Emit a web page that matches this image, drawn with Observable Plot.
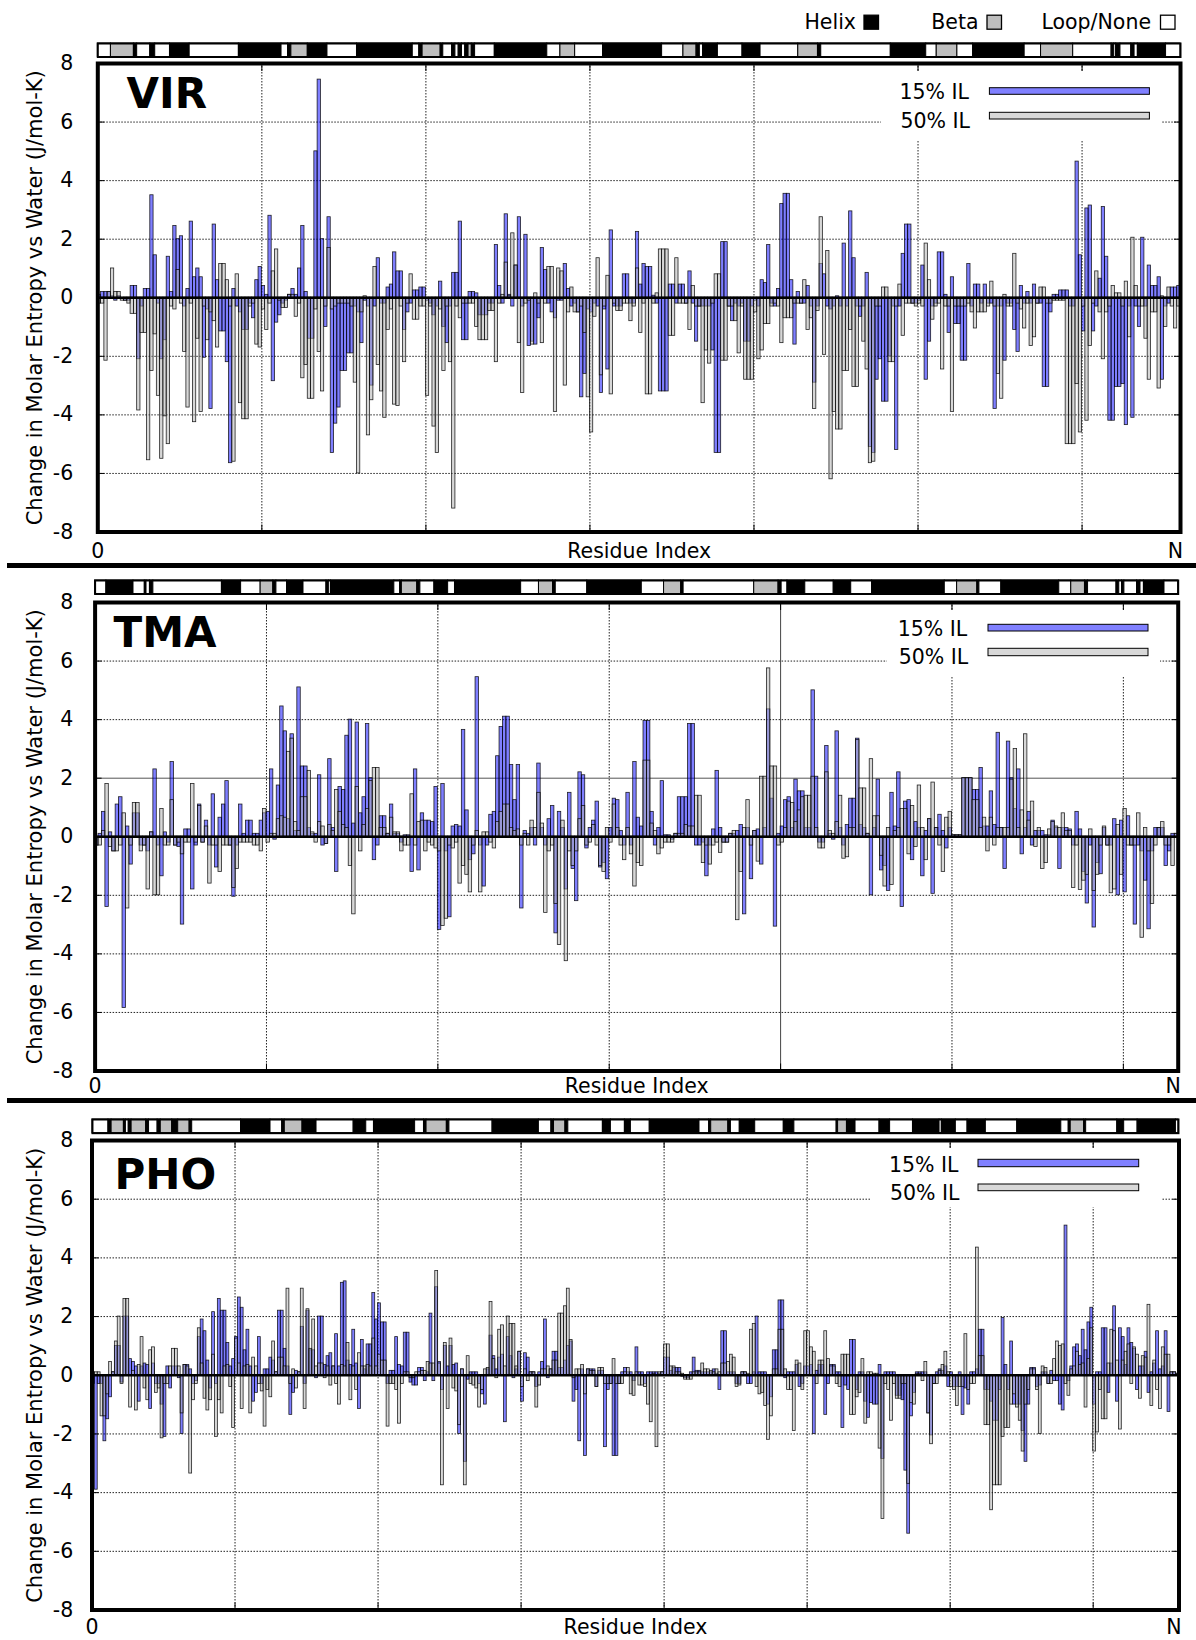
<!DOCTYPE html>
<html><head><meta charset="utf-8">
<script src="https://cdn.jsdelivr.net/npm/d3@7"></script>
<script src="https://cdn.jsdelivr.net/npm/@observablehq/plot@0.6"></script>
<style>
html,body{margin:0;padding:0;background:#fff}
body{width:1196px;height:1640px;position:relative;overflow:hidden;font-family:"DejaVu Sans",sans-serif}
.abs{position:absolute;left:0}
.sep{position:absolute;left:7px;width:1189px;height:4.5px;background:#000}
</style></head><body>
<script>
// ---------------- DATA ----------------
const virBlue = [0.1,0.2,0.2,0.2,0.05,-0.1,0.05,0,-0.1,-0.1,
0.4,0.4,-2.1,-0.3,0.3,0.3,3.5,1.45,-0.2,-2.1,
-1.45,1.4,0.2,2.45,2.0,2.1,-0.3,0.3,2.6,0.7,
1.0,0.7,-2.05,-0.4,-3.8,2.5,0.6,-1.15,-1.15,-2.2,
-5.65,0.3,-0.3,-0.5,-1.1,-1.1,-0.2,-0.7,0.6,1.05,
0.4,0.1,2.8,-2.85,-0.85,-0.6,-0.2,-0.1,0.1,0.3,
0.1,1.0,2.45,0.2,-1.4,-1.4,5.0,7.45,2.0,-1.0,
2.75,-5.3,-4.3,-3.75,-2.5,-2.5,-1.9,-1.9,-0.3,-0.5,
-1.55,-0.1,-0.3,-3.0,-0.3,1.35,-0.2,-0.2,0.35,0.45,
1.55,0.9,0.9,-1.1,-0.5,-0.2,0.25,0.25,0.35,0.35,
-0.1,-0.2,-0.6,-0.3,0.55,-1.0,-1.55,-0.3,0.85,0.85,
2.6,-1.45,-1.45,0.2,0.2,0.15,-0.6,-0.6,-0.6,-0.2,
-0.2,1.8,0.4,-0.2,2.85,0.1,-0.3,1.1,2.75,-0.3,
2.15,-1.65,-1.5,-1.6,-0.7,1.7,0.95,-0.2,-0.5,-0.7,
-0.1,-0.1,1.15,0.3,-0.3,-0.2,-0.5,-3.4,-2.6,-0.4,
-0.5,-0.2,-0.3,-3.25,-0.4,-2.45,2.3,-0.3,-0.3,-0.3,
0.8,0.8,-0.2,-0.2,2.25,0.45,1.15,1.05,1.05,0.07,
-0.2,-3.2,-3.2,-3.2,0.45,0.45,-0.2,0.45,0.45,-0.2,
0.9,-0.2,-1.5,-0.3,-0.3,-0.3,-0.3,-1.8,-5.3,-5.3,
1.9,1.9,-0.3,-0.8,-0.2,-0.3,-0.2,-1.5,-1.5,-0.3,
-0.1,-0.3,0.6,0.5,1.8,-0.2,-0.3,0.3,3.2,3.55,
3.55,0.6,-1.6,0.2,-0.2,-0.2,0.4,-0.3,-2.9,-0.3,
1.15,0.8,-0.3,-0.4,-0.3,0.05,-0.3,1.85,-0.3,2.95,
1.35,-0.3,-0.65,-0.3,0.85,-5.1,-5.3,-2.8,-2.1,-3.55,
-3.55,-2.0,-0.3,-5.2,-0.3,1.5,2.5,2.5,-0.2,-0.2,
-0.1,1.1,-2.8,-1.5,-0.3,-0.2,1.55,1.55,0.1,-1.2,
0.7,-0.9,-0.9,-2.15,-2.15,1.15,-0.3,0.45,0.45,-0.2,
0.45,-0.2,-0.2,-3.8,-0.3,-0.3,-2.15,-0.2,-0.2,-1.1,
-1.85,0.4,-0.2,0.2,-0.2,0.45,-0.2,-0.2,-3.05,-3.05,
-0.5,0.1,0.1,0.25,0.25,0.25,-0.3,-0.3,4.65,1.45,
-1.15,3.05,3.15,-1.15,-0.3,0.65,3.1,1.4,-4.2,-4.2,
-3.05,-3.05,-2.95,-4.35,-0.3,-4.1,-0.3,-1.0,2.05,-0.3,
1.1,0.4,0.4,0.7,-2.8,-0.3,-0.2,0.35,0.35,0.4];

const virGray = [-0.2,-0.2,-2.15,0.2,1.0,0.2,0.2,-0.1,-0.1,-0.2,
-0.55,-0.55,-3.85,-1.2,-1.2,-5.55,-2.5,-1.25,-3.35,-5.5,
-4.05,-5.0,-0.3,-0.4,0.95,-0.2,-1.85,-3.75,-0.2,-4.25,
-1.4,-3.9,-0.3,-1.45,-0.5,-0.8,-1.7,1.15,1.15,0.6,
-0.3,-5.6,0.8,-3.6,-4.15,-4.15,-0.3,-0.2,-1.6,-1.7,
-0.4,-1.1,-0.2,0.9,1.65,-0.1,-0.35,-0.35,0.1,0.1,
-0.65,-0.2,-2.75,-2.3,-3.45,-3.45,-0.4,-1.85,-3.2,-0.3,
1.7,-0.4,-0.3,-0.2,-0.2,-0.2,-0.2,-0.3,-2.9,-6.0,
-0.5,0.05,-4.7,-3.5,1.05,-2.3,-3.2,-4.1,-1.1,-0.4,
-3.65,-3.7,-0.3,-2.2,-0.2,0.8,-0.75,-0.75,-0.3,-0.3,
-3.35,-0.3,-4.4,-5.3,-0.4,-2.5,-0.3,-2.2,-7.2,-0.3,
-0.7,-0.2,-0.2,-0.2,-0.2,-1.0,-1.45,-1.45,-1.45,-0.45,
-0.45,-2.2,-0.2,0.1,1.2,0.05,2.2,1.1,-1.55,-3.25,
-0.2,-0.1,-1.6,0.15,-0.2,-1.55,-0.2,1.05,1.05,-3.9,
1.0,0.9,-3.0,-0.5,0.35,-0.5,-0.5,-0.3,-1.2,-3.4,
-4.6,-0.65,1.35,-2.65,-0.3,0.75,-3.3,-0.2,-0.45,-0.45,
-0.2,-0.2,-0.8,-0.3,1.0,-1.2,-0.2,-3.3,-3.3,-0.2,
0.15,1.65,1.65,1.65,-1.3,-1.3,1.35,-0.2,-0.2,-0.2,
-1.1,0.4,-0.3,-0.3,-3.6,-1.8,-2.25,-0.2,0.8,0.8,
-2.15,-2.15,-0.3,-0.3,-0.8,-1.9,-0.3,-2.8,-2.8,-2.8,
-0.5,-2.1,-1.8,-0.9,-0.9,-0.3,-0.2,-0.3,-1.55,-0.7,
-0.7,-0.7,-0.2,-0.2,-0.2,0.6,-1.1,-0.7,-3.8,-0.45,
2.75,-1.95,1.6,-6.2,-3.9,-4.5,-4.5,-2.5,-2.5,-1.1,
-3.05,-3.05,-0.3,-1.5,-2.45,-5.65,-5.6,-0.3,-0.3,0.35,
0.35,-2.2,-2.2,-0.3,0.45,-1.3,-0.2,-0.2,-0.2,-0.3,
-0.2,-0.3,1.85,0.6,-0.75,-0.3,-0.2,-2.45,-0.3,-0.3,
-3.9,-0.3,-0.3,-0.3,-0.3,-0.2,-0.5,-1.05,-0.5,-0.5,
-0.5,-0.3,0.55,-0.3,-2.6,-3.45,0.1,-0.3,-0.3,1.5,
-0.2,-0.4,-1.05,-0.2,-1.65,-1.35,-0.2,0.35,0.35,-0.2,
-0.2,-0.1,-0.1,-0.1,-0.1,-5.0,-5.0,-5.0,-2.95,-4.6,
-0.3,-4.2,-1.65,-0.2,0.9,-0.5,-2.1,-0.5,-0.3,0.4,
0.15,0.15,-0.3,0.55,-1.35,2.05,0.4,-0.3,-0.3,-1.4,
-2.8,-0.5,-0.5,-3.1,0.05,-1.0,0.35,-0.3,-1.05,-0.3];

const tmaBlue = [-0.3,0.1,0.85,-2.4,0.15,-0.5,1.1,1.35,-5.85,0.35,
-0.95,0.8,0.8,-0.3,-0.3,-0.5,0.15,2.3,-0.3,-1.35,
0.15,-0.2,2.55,-0.3,-0.35,-3.0,0.25,0.25,-1.8,-0.3,
1.1,-0.2,0.55,-0.3,1.45,-1.05,0.65,1.1,1.9,-0.3,
-2.05,-0.3,1.1,0.1,0.55,0.55,0.1,0.1,0.55,0.8,
0.85,2.3,-0.1,1.75,4.45,3.6,0.6,3.5,0.2,5.1,
2.4,2.4,0.3,0.1,0.1,2.1,-0.3,-0.25,2.65,0.3,
-1.2,1.7,1.6,3.45,4.0,0.45,3.9,0.8,1.35,3.85,
2.0,-0.8,-0.3,0.7,0.7,0.1,1.1,0.1,0.1,-0.2,
0.05,0.05,-1.2,2.3,-1.15,0.8,0.55,0.55,0.5,1.7,
-3.18,1.8,-0.5,-2.75,0.35,0.4,0.35,3.65,0.9,-0.8,
-0.6,5.45,-0.3,-1.7,-0.3,0.75,0.85,2.75,3.75,4.1,
4.1,2.45,1.25,2.45,-2.45,0.2,0.1,0.3,-0.3,2.5,
0.3,-0.3,0.6,1.05,-3.3,0.85,0.3,-1.8,1.5,-1.1,
-2.2,2.2,2.1,-0.4,0.3,0.55,1.2,-1.05,-0.9,-1.45,
0.3,1.3,1.25,0.2,-0.3,1.5,-0.3,2.55,0.65,0.35,
3.95,3.95,0.85,-0.3,0.3,1.9,0.05,0.05,-0.1,0.1,
1.35,1.35,1.35,3.85,3.85,-0.3,-0.3,-0.2,-1.35,-0.3,
0.25,2.25,0.3,-0.2,-0.2,0.1,0.1,0.2,0.4,-2.65,
0.3,-1.45,0.2,0.25,-0.95,0.3,4.35,1.3,-3.07,0.1,
0.35,1.25,1.35,0.3,1.95,1.55,1.55,0.3,0.3,5.0,
2.05,-0.2,-0.2,3.1,0.1,-0.1,3.6,0.3,-0.3,0.4,
1.3,1.3,3.35,0.4,0.3,0.1,-2.0,0.3,1.95,-1.15,
-1.0,-1.85,1.5,0.35,2.2,-2.4,1.2,1.25,-0.8,0.5,
0.3,-1.35,0.2,0.6,-1.95,0.3,0.75,0.2,-0.4,0.3,
0.05,0.05,0.05,2.0,2.0,2.0,1.6,1.6,2.35,0.35,
0.35,1.55,0.4,3.55,0.3,-1.1,3.25,2.0,0.95,2.3,
-0.6,0.3,0.85,-0.3,0.2,0.2,0.2,0.05,0.05,0.55,
0.3,-1.1,0.3,0.3,0.25,-0.3,0.85,0.25,-1.2,-2.28,
-0.3,-3.1,-0.9,-1.28,0.3,-0.3,-0.3,0.6,-2.0,0.55,
-1.9,0.7,-0.3,-3.0,-0.3,-0.5,-1.5,-3.16,-0.5,0.3,
0.3,0.3,-1.0,-0.5,0.1,0.1];

const tmaGray = [-0.3,-0.3,0.2,1.8,-0.35,-0.5,-0.5,-0.3,0.8,-2.45,
-0.3,1.15,1.15,-0.5,-0.3,-1.8,0.15,-2.0,-2.0,0.95,
-0.3,-0.3,1.25,-0.3,-0.2,-0.6,-0.2,-0.2,1.8,-0.2,
1.05,-0.2,0.35,-1.6,-0.3,-0.3,-1.2,-0.3,-0.3,-0.3,
-1.75,-1.1,-0.2,-0.2,-0.2,-0.2,-0.3,-0.3,-0.5,0.95,
-0.2,0.1,0.1,0.6,0.7,0.65,2.9,3.35,0.5,0.2,
1.35,1.35,2.25,0.15,-0.2,0.5,0.35,-0.25,0.4,0.2,
1.6,0.85,0.4,0.3,-1.0,-2.65,1.7,-0.5,0.4,0.95,
1.9,2.35,2.35,0.3,0.3,0.1,0.65,0.15,0.15,-0.5,
-0.3,-0.3,1.45,-0.3,0.5,0.55,-0.5,-0.2,-0.3,-0.4,
-0.5,-3.05,-2.8,-0.3,-0.4,-0.2,-1.6,-1.0,-1.3,-1.9,
-0.3,0.2,-1.9,0.15,0.15,-0.2,-0.4,0.5,0.85,1.1,
1.1,0.3,0.2,0.25,-0.3,0.1,-0.3,0.55,0.3,1.5,
0.45,-2.6,-0.5,-0.3,-2.3,-3.7,0.55,-4.25,-0.5,-1.0,
-0.5,0.6,1.05,-0.3,-0.2,0.4,-0.3,-1.0,-1.2,0.3,
-0.2,1.1,0.3,-0.3,-0.8,0.3,-0.6,-1.7,-0.9,-1.0,
2.6,2.6,0.45,0.2,-0.6,-0.4,-0.2,-0.2,-0.2,0.1,
0.1,0.1,0.4,0.35,0.35,1.4,1.4,-0.9,-0.3,-0.95,
-0.3,-0.2,-0.55,-0.2,-0.2,0.1,0.2,-2.85,-1.2,0.3,
1.25,-0.3,0.2,-0.85,2.05,2.05,5.75,2.4,2.4,-0.3,
-0.2,0.3,1.2,1.15,0.5,0.9,1.35,1.4,1.4,2.05,
0.3,-0.4,-0.4,2.2,0.2,0.1,0.5,1.4,-0.75,-0.7,
0.3,0.3,3.3,1.65,1.65,0.1,2.65,0.7,0.7,-0.65,
-1.7,0.3,-1.65,0.2,0.3,0.95,0.95,-0.6,1.05,-0.35,
1.75,0.3,-0.8,0.6,1.85,0.3,-0.3,-1.2,0.65,0.85,
0.05,0.05,0.05,2.0,2.0,2.0,1.25,1.25,0.3,0.65,
-0.5,0.65,-0.3,0.3,0.3,0.3,0.3,1.95,3.0,0.3,
0.9,3.5,0.55,1.2,-0.35,0.3,-1.1,-0.9,0.25,0.5,
0.35,0.3,0.8,0.2,0.2,-1.75,-0.3,-1.82,-1.5,-1.3,
0.25,-1.85,-1.3,-0.3,0.35,-0.3,-1.93,-1.8,0.4,-1.3,
0.95,-0.3,-0.3,-0.3,0.8,-3.45,0.3,-0.5,-2.3,-0.3,
0.3,0.5,-0.3,-0.3,-1.0,0.1];

const phoBlue = [-0.3,-3.9,-0.3,-0.3,-2.25,-1.5,-0.75,0.1,1.0,1.0,
-0.25,2.0,2.0,0.55,0.45,0.3,-0.9,0.3,0.4,0.35,
-1.15,0.4,-0.3,-0.3,-1.0,-2.1,0.3,-0.45,0.3,0.3,
-0.1,-2.0,0.35,0.35,0.2,-0.3,-0.2,1.3,1.9,1.5,
0.5,-0.45,2.15,-0.3,2.6,2.2,2.2,1.1,0.3,0.55,
1.3,2.65,2.3,0.85,1.55,0.3,-0.9,-0.6,1.3,-0.3,
0.2,0.2,0.6,0.5,0.1,2.2,2.2,0.9,0.3,-1.35,
-0.6,0.15,0.1,1.65,-0.3,2.2,0.85,0.85,-0.1,2.0,
2.0,0.35,0.65,0.75,0.3,1.4,0.3,3.15,3.2,0.5,
0.35,1.55,0.4,-1.15,1.2,0.2,1.05,1.05,2.8,1.9,
2.45,1.8,1.8,-0.3,0.15,0.15,1.3,0.35,0.3,1.45,
1.45,-0.25,-0.35,-0.35,0.25,0.25,-0.2,0.1,2.1,-0.2,
3.0,0.45,-0.5,1.0,0.3,1.0,0.35,0.4,-2.0,0.2,
-2.95,-0.15,0.1,0.1,0.1,-0.3,-0.65,-1.0,0.2,1.35,
0.65,0.2,0.6,0.7,-1.6,1.3,0.65,-0.1,0.2,0.8,
-0.9,0.75,0.6,0.1,0.1,-0.4,0.1,0.45,1.9,-0.1,
0.2,0.8,0.8,0.25,0.25,0.5,1.0,1.15,-0.9,-0.5,
-2.25,0.2,-2.75,0.2,0.2,0.2,-0.4,0.15,0.15,-2.45,
-0.5,-0.3,-2.75,-2.75,-0.3,0.1,0.25,0.1,0.1,-0.2,
0.95,0.1,0.1,-0.3,0.1,0.1,0.1,0.1,0.05,0.1,
0.6,0.6,0.15,0.25,0.25,0.25,-0.05,-0.1,-0.1,0.1,
0.6,0.15,0.15,0.1,0.1,0.1,0.1,0.2,0.05,-0.5,
1.5,1.5,0.1,0.1,0.1,-0.3,-0.3,0.1,0.1,-0.3,
-0.3,0.1,2.0,0.1,0.1,0.1,-1.0,-0.75,0.85,0.85,
2.55,2.55,-0.1,0.1,0.1,0.1,0.35,-0.4,-0.3,0.3,
0.3,0.35,-2.0,0.15,0.35,0.35,-1.35,-0.3,0.35,0.35,
0.1,0.1,-1.8,-0.35,-0.5,1.2,1.2,-0.5,0.1,0.1,
-0.9,-1.45,-0.95,-1.0,-1.0,0.35,-2.85,0.1,0.1,0.1,
0.1,-0.7,-0.7,-0.85,-3.25,-5.4,-1.4,-0.6,0.1,0.1,
0.1,0.1,-1.3,-2.05,-0.3,0.1,0.2,0.15,0.3,-0.4,
0.1,-0.4,-0.4,0.1,-1.35,-0.45,-1.0,0.1,0.1,0.2,
1.55,1.55,-0.5,-0.5,-0.9,-1.55,-1.55,-0.5,1.95,0.35,
-0.5,1.15,-1.0,-1.0,-1.0,-1.9,-2.95,-1.0,0.25,0.25,
-0.4,-0.35,0.1,0.1,-0.3,0.15,-0.2,-0.2,-1.0,-1.2,
5.1,-0.2,0.3,0.95,1.05,0.65,1.55,0.85,1.8,2.3,
-1.0,0.1,0.1,1.6,1.6,-0.6,0.4,2.35,-0.9,1.6,
1.3,0.35,1.6,1.1,0.9,-0.5,0.3,0.3,0.8,-0.6,
0.1,0.4,1.5,0.2,0.3,1.5,-1.25,0.1,0.1,0.05];

const phoGray = [0.1,0.1,0.1,-1.4,-1.4,-0.65,0.45,0.1,1.15,2.0,
-0.3,2.6,2.6,-1.1,0.15,-1.2,0.35,1.3,-0.45,-0.85,
0.85,0.95,-0.6,-0.45,-2.15,-0.3,-0.3,0.3,0.9,0.9,
0.3,-1.3,0.35,0.3,-3.35,-0.85,-0.3,1.6,0.4,-0.8,
-1.2,-0.85,0.7,-2.1,-0.85,-1.3,0.3,0.35,-0.4,-1.8,
1.25,0.4,-1.15,0.3,0.35,-1.3,0.6,0.3,-0.3,-0.55,
-1.75,-0.5,-0.75,1.15,0.1,0.6,0.6,0.3,2.95,-0.3,
0.2,-0.45,0.1,2.95,-1.15,2.25,0.9,1.9,0.3,0.4,
0.4,-0.1,0.3,-0.35,0.3,-0.3,-1.0,0.35,0.3,1.1,
-0.85,0.3,-0.5,0.75,0.3,0.3,0.35,0.3,1.25,0.3,
0.7,0.5,0.5,-1.75,-0.3,-0.3,-0.5,-1.65,-0.3,0.1,
0.1,-0.1,-0.1,0.1,0.1,0.15,0.15,0.45,0.4,0.4,
3.55,0.4,-3.75,1.1,-1.15,1.25,-0.45,-0.55,-1.7,0.2,
-3.75,0.65,-0.3,-0.35,-0.45,-1.1,-0.5,0.2,0.25,2.5,
0.55,-0.1,1.55,1.7,0.3,2.0,1.75,1.75,0.3,0.8,
-0.4,0.2,-0.2,0.1,0.1,-1.1,-0.35,0.2,0.2,0.3,
0.2,0.5,0.5,2.1,2.1,2.35,2.95,1.2,-0.1,0.2,
0.2,0.35,-0.65,0.2,0.15,0.15,-0.4,0.25,0.25,-0.3,
-0.3,-0.3,0.55,-0.3,-0.3,-0.3,0.1,0.25,-0.65,-0.7,
0.1,-0.35,-0.35,-0.4,-1.0,-1.6,0.05,-2.45,0.1,0.1,
1.05,1.05,0.3,0.3,0.1,0.1,0.05,-0.15,-0.15,-0.15,
0.1,0.1,0.1,0.4,0.2,0.2,0.15,0.1,0.2,0.1,
0.4,0.4,0.45,0.7,0.6,-0.4,-0.35,0.1,0.1,0.05,
1.55,1.75,-0.4,-0.65,-0.6,-1.05,-2.2,-1.4,0.2,0.2,
1.55,1.55,0.2,-0.5,-0.5,-1.9,0.5,0.4,-0.5,1.5,
1.5,0.95,0.8,-0.3,0.5,0.5,1.5,0.55,0.3,0.3,
-0.3,-0.4,0.7,0.7,0.7,-1.35,-1.35,-0.75,-0.6,0.55,
-1.65,0.1,0.1,0.05,0.05,-2.5,-4.9,-0.3,-0.5,-1.55,
-0.3,-0.8,-0.8,-0.3,-0.3,-3.7,-0.95,-1.0,0.05,0.05,
-0.2,0.45,-1.3,-2.35,-0.3,-0.3,0.15,0.35,0.8,0.1,
-0.4,-0.5,-1.05,-0.4,-0.4,1.4,-0.5,-0.3,-0.3,4.35,
0.65,0.65,-1.7,-1.7,-4.6,-3.75,-3.75,-3.75,-2.1,-1.8,
-1.8,-1.0,-0.65,-1.1,-1.55,-2.6,-1.0,-0.5,0.2,0.2,
-0.5,-2.0,0.3,0.25,-0.3,-0.3,0.55,1.15,1.0,1.05,
-0.3,-0.7,0.2,0.3,0.8,0.35,0.4,-1.1,0.55,1.6,
-2.6,-1.95,-0.5,-1.5,-1.5,0.4,1.55,1.5,0.5,-1.85,
0.5,0.8,1.05,-0.3,0.95,0.7,-0.8,0.65,0.6,2.4,
-1.05,0.5,-0.5,-1.15,0.95,0.7,0.7,0.1,0.1,0.05];

// secondary structure segments: [start residue, end residue, type]  H = helix, E = beta, L = loop/none
const virSS = [[0,4,"L"],[4,11,"E"],[11,12,"H"],[12,16,"L"],[16,17.5,"H"],[17.5,22,"L"],[22,28,"H"],[28,43,"L"],[43,56,"H"],[56,58,"L"],[58,59,"H"],[59,64,"E"],[64,70,"H"],[70,79,"L"],[79,96,"H"],[96,98,"L"],[98,99,"H"],[99,104.5,"E"],[104.5,105.3,"H"],[105.3,108,"L"],[108,109,"H"],[109,110,"L"],[110,111,"H"],[111,112,"L"],[112,113,"H"],[113,114,"E"],[114,115,"H"],[115,121,"L"],[121,137,"H"],[137,141,"L"],[141,145.5,"E"],[145.5,154,"L"],[154,172,"H"],[172,178.5,"L"],[178.5,182.5,"E"],[182.5,183.5,"H"],[183.5,184.5,"L"],[184.5,189,"H"],[189,196.5,"L"],[196.5,202,"H"],[202,213.5,"L"],[213.5,219.5,"E"],[219.5,220.5,"H"],[220.5,241.7,"L"],[241.7,252.5,"H"],[252.5,255.7,"L"],[255.7,262,"E"],[262,266.8,"L"],[266.8,282.5,"H"],[282.5,287.5,"L"],[287.5,297.3,"E"],[297.3,309,"L"],[309,309.8,"H"],[309.8,310.4,"L"],[310.4,311.7,"H"],[311.7,315,"L"],[315,316,"H"],[316,317,"L"],[317,325.6,"H"],[325.6,330,"L"]];
const tmaSS = [[0,3.3,"L"],[3.3,11.2,"H"],[11.2,14.5,"L"],[14.5,15,"H"],[15,16,"L"],[16,17,"H"],[17,37,"L"],[37,42.6,"H"],[42.6,48.3,"L"],[48.3,52,"E"],[52,52.9,"H"],[52.9,56,"L"],[56,60.8,"H"],[60.8,67.5,"L"],[67.5,68.2,"H"],[68.2,68.8,"L"],[68.8,87.3,"H"],[87.3,89,"L"],[89,89.5,"H"],[89.5,94,"E"],[94,94.9,"H"],[94.9,99,"L"],[99,103,"H"],[103,105,"L"],[105,124.3,"H"],[124.3,129.5,"L"],[129.5,133.6,"E"],[133.6,134.4,"H"],[134.4,143.6,"L"],[143.6,159.5,"H"],[159.5,166,"L"],[166,171,"E"],[171,171.7,"H"],[171.7,192.3,"L"],[192.3,199.4,"E"],[199.4,200.3,"H"],[200.3,202,"L"],[202,207.2,"H"],[207.2,215.5,"L"],[215.5,220.6,"H"],[220.6,226.7,"L"],[226.7,247.9,"H"],[247.9,251.5,"L"],[251.5,257.4,"E"],[257.4,258,"H"],[258,264.4,"L"],[264.4,281.3,"H"],[281.3,284.8,"L"],[284.8,288.8,"E"],[288.8,289.7,"H"],[289.7,298,"L"],[298,298.8,"H"],[298.8,299.6,"L"],[299.6,300.3,"H"],[300.3,304,"L"],[304,305,"H"],[305,306,"L"],[306,312,"H"],[312,316,"L"]];
const phoSS = [[0,5.6,"L"],[5.6,6.7,"H"],[6.7,11,"E"],[11,11.7,"H"],[11.7,12.7,"L"],[12.7,13.7,"H"],[13.7,18.8,"E"],[18.8,19.8,"H"],[19.8,22.8,"L"],[22.8,23.9,"H"],[23.9,27.9,"E"],[27.9,30,"H"],[30,34,"E"],[34,34.9,"H"],[34.9,52,"L"],[52,62.3,"H"],[62.3,66.4,"L"],[66.4,67.3,"H"],[67.3,73.5,"E"],[73.5,78.4,"H"],[78.4,91.4,"L"],[91.4,95.8,"H"],[95.8,98.5,"L"],[98.5,112.9,"H"],[112.9,116,"L"],[116,116.9,"H"],[116.9,124,"E"],[124,124.9,"H"],[124.9,140,"L"],[140,156.2,"H"],[156.2,160.6,"L"],[160.6,161.5,"H"],[161.5,165.5,"E"],[165.5,166.5,"H"],[166.5,178.6,"L"],[178.6,181.4,"H"],[181.4,186.3,"L"],[186.3,188.4,"H"],[188.4,195,"L"],[195,212.4,"H"],[212.4,215.8,"L"],[215.8,216.5,"H"],[216.5,222.5,"E"],[222.5,223.4,"H"],[223.4,226.5,"L"],[226.5,231.9,"H"],[231.9,241.9,"L"],[241.9,245.6,"H"],[245.6,260.4,"L"],[260.4,260.9,"H"],[260.9,264,"E"],[264,267,"H"],[267,275.4,"L"],[275.4,279.1,"H"],[279.1,287.1,"L"],[287.1,296.4,"H"],[296.4,297.2,"L"],[297.2,302.1,"H"],[302.1,306.2,"L"],[306.2,312.6,"H"],[312.6,323.6,"L"],[323.6,339,"H"],[339,341.6,"L"],[341.6,342.3,"H"],[342.3,347,"E"],[347,347.7,"H"],[347.7,358.6,"L"],[358.6,361,"H"],[361,365.7,"L"],[365.7,379.1,"H"],[379.1,380,"L"]];

const yTicks = [-8,-6,-4,-2,0,2,4,6,8];
const yGridValues = [-6,-4,-2,2,4,6];
const seriesLabels = ["15% IL", "50% IL"];
const ssLabels = [["Helix","H"],["Beta","E"],["Loop/None","L"]];
const yTitle = "Change in Molar Entropy vs Water (J/mol-K)";
const xTitle = "Residue Index";

// ---------------- LAYOUT / STYLE ----------------
const FONT = "DejaVu Sans";
const BLUE = "#0000ff", GRAY = "#b0b0b0";
const ssColor = {H:"#000000", E:"#bebebe", L:"#ffffff"};

const panels = [
 {name:"VIR", blue:virBlue, gray:virGray, ss:virSS, n:330, left:97.3, right:1180, top:63, bottom:531.5,
  ssTop:42.5, ssBottom:56, xlabDy:19, nameDx:28.7, nameDy:44, solidY:[], solidX:[],
  leg:{box:[881,72,1162,140], textRight:969, base1:99.3, base2:127.7, bx1:989.4, bx2:1149.4, b1:[87.7,94.3], b2:[112.3,119]}},
 {name:"TMA", blue:tmaBlue, gray:tmaGray, ss:tmaSS, n:316, left:94.6, right:1177.7, top:601.5, bottom:1070,
  ssTop:580, ssBottom:593.5, xlabDy:15, nameDx:18.4, nameDy:44.5, solidY:[2], solidX:[200],
  leg:{box:[887,610,1160,676], textRight:967.2, base1:636, base2:664.3, bx1:988, bx2:1148, b1:[624.3,631], b2:[648.3,655.7]}},
 {name:"PHO", blue:phoBlue, gray:phoGray, ss:phoSS, n:380, left:91.5, right:1178.5, top:1139.5, bottom:1609,
  ssTop:1119, ssBottom:1132.7, xlabDy:17.5, nameDx:22.5, nameDy:48.8, solidY:[], solidX:[],
  leg:{box:[871,1148,1161,1207], textRight:958.5, base1:1172, base2:1200, bx1:978, bx2:1138.7, b1:[1159.3,1166.7], b2:[1184,1190.7]}}
];

function place(el, top){
  const d = document.createElement("div");
  d.className = "abs"; d.style.top = top + "px";
  d.appendChild(el); document.body.appendChild(d);
}

const baseStyle = {fontFamily: FONT, fontSize: "20.5px", background: "transparent", overflow: "visible", color: "black"};

for (const p of panels) {
  const mt = 12, mb = 40;
  const h = (p.bottom - p.top) + mt + mb;
  const grid = d3.range(50, p.n, 50);
  const toBars = arr => arr.map((v, i) => ({i, v}));
  const main = Plot.plot({
    width: 1196, height: h,
    marginLeft: p.left, marginRight: 1196 - p.right, marginTop: mt, marginBottom: mb,
    x: {domain: [0, p.n], axis: null},
    y: {domain: [-8, 8], axis: null},
    style: baseStyle,
    marks: [
      Plot.ruleY(yGridValues.filter(v => !p.solidY.includes(v)), {stroke: "#222", strokeWidth: 1, strokeDasharray: "1.5,1.5"}),
      Plot.ruleY(p.solidY, {stroke: "#555", strokeWidth: 1}),
      Plot.ruleX(grid.filter(v => !p.solidX.includes(v)), {stroke: "#222", strokeWidth: 1, strokeDasharray: "1.5,1.5"}),
      Plot.ruleX(p.solidX, {stroke: "#444", strokeWidth: 1}),
      Plot.rect(toBars(p.blue), {x1: "i", x2: d => d.i + 1, y1: d => 0, y2: "v", fill: BLUE, fillOpacity: 0.5, stroke: "#000", strokeWidth: 0.8, strokeOpacity: 0.85}),
      Plot.rect(toBars(p.gray), {x1: "i", x2: d => d.i + 1, y1: d => 0, y2: "v", fill: GRAY, fillOpacity: 0.5, stroke: "#000", strokeWidth: 0.8, strokeOpacity: 0.85}),
      Plot.ruleY([0], {stroke: "#000", strokeWidth: 2.4}),
      Plot.axisY({anchor: "left", ticks: yTicks, tickSize: 0, tickPadding: p.left - 72.7, tickFormat: d => String(d), fontSize: 20.5, label: null}),
      Plot.axisY({anchor: "left", ticks: yTicks, tickSize: -7, tickFormat: () => "", label: null}),
      Plot.axisY({anchor: "right", ticks: yTicks, tickSize: -7, tickFormat: () => "", label: null}),
      Plot.axisX({anchor: "top", ticks: grid, tickSize: -7, tickFormat: () => "", label: null}),
      Plot.axisX({anchor: "bottom", ticks: grid, tickSize: -7, tickFormat: () => "", label: null}),
      Plot.frame({stroke: "#000", strokeWidth: 4}),
      Plot.text([p.name], {frameAnchor: "top-left", dx: p.nameDx, dy: p.nameDy, textAnchor: "start", lineAnchor: "bottom", fontSize: 42, fontWeight: "bold", fill: "#000"}),
      Plot.text(["0"], {x: d => 0, text: d => d, frameAnchor: "bottom", dy: p.xlabDy, lineAnchor: "middle", textAnchor: "middle", fontSize: 20.5, fill: "#000"}),
      Plot.text(["N"], {x: d => p.n, text: d => d, frameAnchor: "bottom", dy: p.xlabDy, dx: -5, lineAnchor: "middle", textAnchor: "middle", fontSize: 20.5, fill: "#000"}),
      Plot.text([xTitle], {frameAnchor: "bottom", dy: p.xlabDy, lineAnchor: "middle", textAnchor: "middle", fontSize: 20.5, fill: "#000"}),
      Plot.text([yTitle], {frameAnchor: "left", dx: 35 - p.left, rotate: -90, lineAnchor: "middle", textAnchor: "middle", fontSize: 21, fill: "#000"})
    ]
  });
  place(main, p.top - mt);

  const ssPlot = Plot.plot({
    width: 1196, height: p.ssBottom - p.ssTop,
    marginLeft: p.left, marginRight: 1196 - p.right, marginTop: 0, marginBottom: 0,
    x: {domain: [0, p.n], axis: null},
    style: baseStyle,
    marks: [
      Plot.frame({fill: "white", stroke: "none"}),
      Plot.rect(p.ss, {x1: d => d[0], x2: d => d[1], fill: d => ssColor[d[2]], stroke: "#000", strokeWidth: 1}),
      Plot.frame({stroke: "#000", strokeWidth: 2})
    ]
  });
  place(ssPlot, p.ssTop);

  // in-panel legend (opaque box like the original)
  const L = p.leg, NS = "http://www.w3.org/2000/svg";
  const svg = document.createElementNS(NS, "svg");
  svg.setAttribute("width", 1196); svg.setAttribute("height", 1640);
  svg.style.position = "absolute"; svg.style.left = "0"; svg.style.top = "0"; svg.style.overflow = "visible";
  const mk = (tag, attrs, txt) => { const e = document.createElementNS(NS, tag); for (const k in attrs) e.setAttribute(k, attrs[k]); if (txt) e.textContent = txt; svg.appendChild(e); return e; };
  mk("rect", {x: L.box[0], y: L.box[1], width: L.box[2]-L.box[0], height: L.box[3]-L.box[1], fill: "white"});
  mk("text", {x: L.textRight, y: L.base1, "text-anchor": "end", "font-family": FONT, "font-size": 20.5}, seriesLabels[0]);
  mk("text", {x: L.textRight + 1, y: L.base2, "text-anchor": "end", "font-family": FONT, "font-size": 20.5}, seriesLabels[1]);
  mk("rect", {x: L.bx1, y: L.b1[0], width: L.bx2-L.bx1, height: L.b1[1]-L.b1[0], fill: "#8080ff", stroke: "#000", "stroke-width": 1});
  mk("rect", {x: L.bx1, y: L.b2[0], width: L.bx2-L.bx1, height: L.b2[1]-L.b2[0], fill: "#d8d8d8", stroke: "#000", "stroke-width": 1});
  document.body.appendChild(svg);
}

// separators and top legend
for (const y of [563.3, 1098.3]) { const s = document.createElement("div"); s.className = "sep"; s.style.top = y + "px"; document.body.appendChild(s); }
{
  const NS = "http://www.w3.org/2000/svg";
  const svg = document.createElementNS(NS, "svg");
  svg.setAttribute("width", 1196); svg.setAttribute("height", 40);
  svg.style.position = "absolute"; svg.style.left = "0"; svg.style.top = "0";
  const items = [{textRight: 856, sq: 864}, {textRight: 978.5, sq: 987}, {textRight: 1151, sq: 1160.5}];
  ssLabels.forEach(([label, key], k) => {
    const t = document.createElementNS(NS, "text");
    t.setAttribute("x", items[k].textRight); t.setAttribute("y", 29.3);
    t.setAttribute("text-anchor", "end"); t.setAttribute("font-family", FONT); t.setAttribute("font-size", 20.5);
    t.textContent = label; svg.appendChild(t);
    const r = document.createElementNS(NS, "rect");
    r.setAttribute("x", items[k].sq); r.setAttribute("y", 15.2); r.setAttribute("width", 14.5); r.setAttribute("height", 14);
    r.setAttribute("fill", ssColor[key]); r.setAttribute("stroke", "#000"); r.setAttribute("stroke-width", 1.3);
    svg.appendChild(r);
  });
  document.body.appendChild(svg);
}
</script>
</body></html>
